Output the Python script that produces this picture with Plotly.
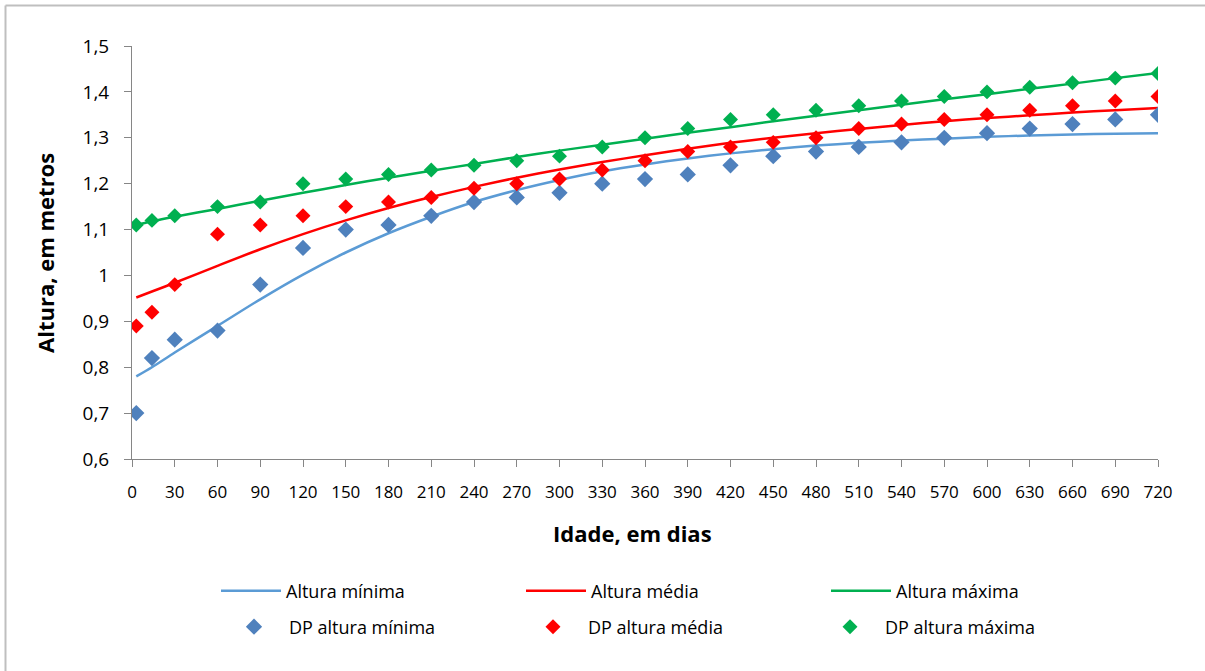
import plotly.graph_objects as go

# ---- data ----
idade = [3, 14, 30, 60, 90, 120, 150, 180, 210, 240, 270, 300, 330, 360,
         390, 420, 450, 480, 510, 540, 570, 600, 630, 660, 690, 720]

dp_min = [0.70, 0.82, 0.86, 0.88, 0.98, 1.06, 1.10, 1.11, 1.13, 1.16, 1.17, 1.18, 1.20,
          1.21, 1.22, 1.24, 1.26, 1.27, 1.28, 1.29, 1.30, 1.31, 1.32, 1.33, 1.34, 1.35]
dp_med = [0.89, 0.92, 0.98, 1.09, 1.11, 1.13, 1.15, 1.16, 1.17, 1.19, 1.20, 1.21, 1.23,
          1.25, 1.27, 1.28, 1.29, 1.30, 1.32, 1.33, 1.34, 1.35, 1.36, 1.37, 1.38, 1.39]
dp_max = [1.11, 1.12, 1.13, 1.15, 1.16, 1.20, 1.21, 1.22, 1.23, 1.24, 1.25, 1.26, 1.28,
          1.30, 1.32, 1.34, 1.35, 1.36, 1.37, 1.38, 1.39, 1.40, 1.41, 1.42, 1.43, 1.44]

alt_min = [0.780, 0.800, 0.832, 0.890, 0.948, 1.002, 1.050, 1.092, 1.128, 1.160, 1.186,
           1.208, 1.227, 1.242, 1.255, 1.266, 1.275, 1.283, 1.289, 1.294, 1.298, 1.302,
           1.305, 1.307, 1.309, 1.310]
alt_med = [0.952, 0.965, 0.984, 1.021, 1.057, 1.090, 1.120, 1.147, 1.171, 1.193, 1.213,
           1.231, 1.247, 1.262, 1.276, 1.289, 1.300, 1.310, 1.319, 1.328, 1.336, 1.343,
           1.349, 1.355, 1.360, 1.365]
alt_max = [1.110, 1.118, 1.128, 1.145, 1.163, 1.180, 1.197, 1.213, 1.228, 1.243, 1.258,
           1.272, 1.285, 1.298, 1.311, 1.323, 1.336, 1.348, 1.360, 1.372, 1.384, 1.395,
           1.407, 1.418, 1.430, 1.441]

x_ticks = list(range(0, 721, 30))
y_ticks = [0.6, 0.7, 0.8, 0.9, 1.0, 1.1, 1.2, 1.3, 1.4, 1.5]
y_labels = ["0,6", "0,7", "0,8", "0,9", "1", "1,1", "1,2", "1,3", "1,4", "1,5"]

C_BLUE_L = "#5B9BD5"
C_BLUE_M = "#4F81BD"
C_RED = "#FF0000"
C_GREEN = "#00B050"
FONT = "Open Sans"

W, H = 1205, 671
L, R, T, B = 132, W - 1158, 46, H - 459
PW, PH = W - L - R, H - T - B


def px(x):
    return (x - L) / PW


def py(y):
    return (H - B - y) / PH


fig = go.Figure()

# line traces, legend row 1: (name, values, colour, legend id, legend x px)
line_specs = [("Altura mínima", alt_min, C_BLUE_L, "legend", 216),
              ("Altura média", alt_med, C_RED, "legend2", 521),
              ("Altura máxima", alt_max, C_GREEN, "legend3", 826)]
for name, ys, col, lg, _ in line_specs:
    fig.add_trace(go.Scatter(x=idade, y=ys, mode="lines", name=name,
                             line=dict(color=col, width=2.5, shape="spline", smoothing=0.8),
                             legend=lg))

# marker traces, legend row 2
mark_specs = [("DP altura mínima", dp_min, C_BLUE_M, 12.5, "legend4", 219),
              ("DP altura média", dp_med, C_RED, 11.5, "legend5", 518),
              ("DP altura máxima", dp_max, C_GREEN, 11.5, "legend6", 815)]
for name, ys, col, sz, lg, _ in mark_specs:
    fig.add_trace(go.Scatter(x=idade, y=ys, mode="markers", name=name,
                             marker=dict(symbol="diamond", color=col, size=sz,
                                         line=dict(width=0)),
                             legend=lg))

axis_col = "#868686"
legends = {}
for _, _, _, lg, lx in line_specs:
    legends[lg] = dict(x=px(lx), xanchor="left", y=py(591), yanchor="middle",
                       font=dict(family=FONT, size=18), bgcolor="rgba(0,0,0,0)",
                       itemwidth=60)
for _, _, _, _, lg, lx in mark_specs:
    legends[lg] = dict(x=px(lx), xanchor="left", y=py(627), yanchor="middle",
                       font=dict(family=FONT, size=18), bgcolor="rgba(0,0,0,0)",
                       itemwidth=60)

fig.update_layout(
    width=W, height=H,
    margin=dict(l=L, r=R, t=T, b=B),
    paper_bgcolor="white", plot_bgcolor="white",
    font=dict(family=FONT, size=18, color="#000000"),
    showlegend=True,
    xaxis=dict(range=[0, 720], tickmode="array", tickvals=x_ticks,
               ticktext=[str(v) for v in x_ticks],
               showgrid=False, zeroline=False, showline=True,
               linecolor=axis_col, linewidth=1, ticks="outside", ticklen=7,
               tickcolor=axis_col, ticklabelstandoff=11,
               tickfont=dict(family=FONT, size=17)),
    yaxis=dict(range=[0.6, 1.5], tickmode="array", tickvals=y_ticks,
               ticktext=y_labels, showgrid=False, zeroline=False, showline=True,
               linecolor=axis_col, linewidth=1, ticks="outside", ticklen=7,
               tickcolor=axis_col, ticklabelstandoff=11,
               tickfont=dict(family=FONT, size=19)),
    annotations=[
        dict(text="<b>Idade, em dias</b>", xref="paper", yref="paper",
             x=px(632), y=py(533), xanchor="center", yanchor="middle",
             showarrow=False, font=dict(family=FONT, size=22)),
        dict(text="<b>Altura, em metros</b>", xref="paper", yref="paper",
             x=px(45), y=py(253), xanchor="center", yanchor="middle", textangle=-90,
             showarrow=False, font=dict(family=FONT, size=22)),
    ],
    shapes=[
        dict(type="line", xref="paper", yref="paper", x0=px(5.5), x1=px(1210),
             y0=py(5.5), y1=py(5.5), line=dict(color="#BFBFBF", width=2)),
        dict(type="line", xref="paper", yref="paper", x0=px(5.5), x1=px(5.5),
             y0=py(5.5), y1=py(680), line=dict(color="#BFBFBF", width=2)),
    ],
    **legends,
)

fig.write_html("out.html", config={"displayModeBar": False},
               post_script="document.body.style.margin='0px';document.body.style.overflow='hidden';")
